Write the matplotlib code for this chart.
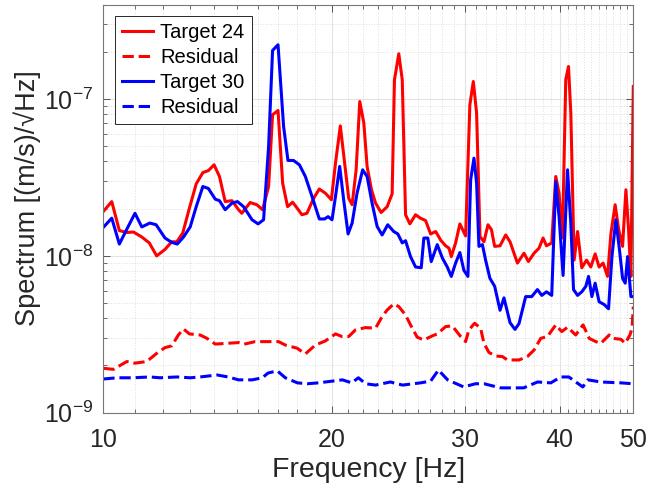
import numpy as np
import matplotlib.pyplot as plt
from matplotlib.ticker import FixedLocator, NullFormatter, LogLocator

plt.rcParams['font.family'] = ['Liberation Sans', 'DejaVu Sans']
plt.rcParams['mathtext.fontset'] = 'custom'
plt.rcParams['mathtext.rm'] = 'Liberation Sans'

# Target 24 (solid red), values in 1e-9 (m/s)/sqrt(Hz)
f_t24 = [10.0, 10.26, 10.5, 10.74, 10.96, 11.24, 11.5, 11.76, 12.06, 12.31, 12.5, 12.73, 12.99,
         13.26, 13.53, 13.76, 14.0, 14.23, 14.48, 14.78, 15.08, 15.23, 15.62, 15.94, 16.22, 16.52,
         16.72, 17.0, 17.24, 17.5, 17.77, 18.01, 18.28, 18.56, 18.94, 19.27, 19.63, 19.99, 20.24,
         20.54, 20.86, 21.07, 21.29, 21.55, 21.79, 22.06, 22.28, 22.58, 22.86, 23.25, 23.68, 24.04,
         24.21, 24.53, 24.79, 25.04, 25.37, 25.81, 26.2, 26.61, 27.02, 27.44, 27.86, 28.28, 28.57,
         28.77, 29.15, 29.53, 30.05, 30.44, 30.76, 31.07, 31.39, 31.77, 32.16, 32.5, 32.82, 33.36,
         33.94, 34.39, 35.17, 35.88, 36.36, 36.99, 37.55, 38.02, 38.41, 39.03, 39.51, 39.91, 40.32,
         40.73, 41.07, 41.36, 41.78, 42.22, 42.76, 43.38, 43.95, 44.53, 45.07, 45.62, 46.24, 46.71,
         47.32, 47.82, 48.4, 48.89, 49.29, 49.64, 50.0]
s_t24 = [19.2, 22.2, 14.5, 14.1, 14.2, 13.2, 12.1, 10.0, 11.0, 12.3, 12.3, 14.0, 20.2,
         28.8, 34.0, 35.0, 38.1, 32.1, 22.2, 22.5, 19.7, 18.7, 21.9, 21.2, 19.7, 27.7,
         79.4, 84.6, 29.1, 20.6, 22.0, 20.2, 18.3, 18.7, 23.3, 26.7, 25.1, 22.8, 39.0,
         67.5, 35.4, 23.3, 21.2, 35.4, 96.5, 70.3, 37.2, 26.4, 21.7, 18.9, 20.6, 24.9,
         132.8, 194.6, 132.8, 18.3, 16.0, 18.3, 17.4, 16.8, 13.8, 14.3, 12.6, 11.6, 11.2,
         9.9, 12.1, 16.0, 13.4, 92.0, 129.5, 81.4, 13.3, 12.3, 15.8, 14.7, 11.5, 11.6,
         13.6, 12.3, 9.0, 10.4, 9.2, 10.4, 11.2, 13.0, 11.6, 12.1, 32.1, 25.1, 13.0,
         132.8, 161.4, 81.4, 9.4, 14.3, 8.4, 9.4, 8.5, 10.3, 8.5, 9.0, 7.4, 13.8,
         21.2, 14.8, 11.5, 26.4, 14.7, 7.4, 120.3]

# Residual for Target 24 (dashed red)
f_r24 = [10.0, 10.31, 10.74, 11.01, 11.41, 11.76, 12.06, 12.31, 12.56, 12.76, 12.99, 13.42, 13.7,
         14.05, 14.56, 15.08, 15.31, 15.86, 16.35, 17.03, 17.38, 18.01, 18.47, 19.04, 19.63, 20.24,
         20.65, 21.07, 21.5, 22.17, 22.86, 23.32, 23.68, 24.16, 24.53, 25.04, 25.42, 25.94, 26.47,
         27.16, 27.57, 28.28, 28.85, 29.6, 30.05, 30.35, 30.88, 31.45, 31.77, 32.26, 32.91, 33.6,
         34.11, 34.46, 35.34, 36.25, 36.99, 37.75, 38.52, 39.51, 40.24, 40.95, 41.98, 42.93, 43.73,
         44.62, 45.31, 46.47, 46.94, 48.14, 48.79, 49.49, 49.82, 50.0]
s_r24 = [1.92, 1.89, 2.12, 2.07, 2.12, 2.39, 2.6, 2.67, 3.13, 3.42, 3.18, 3.13, 2.98,
         2.74, 2.77, 2.8, 2.73, 2.84, 2.84, 2.84, 2.7, 2.58, 2.37, 2.7, 2.87, 3.18,
         3.06, 3.06, 3.37, 3.49, 3.46, 4.1, 4.52, 4.94, 4.75, 4.2, 3.63, 3.03, 2.91,
         3.09, 3.18, 3.54, 3.58, 3.06, 2.84, 3.37, 3.72, 3.46, 2.77, 2.42, 2.3, 2.28,
         2.17, 2.17, 2.17, 2.28, 2.51, 2.98, 3.06, 3.63, 3.29, 3.51, 3.13, 3.63, 2.98,
         2.84, 2.77, 3.13, 2.98, 2.94, 2.77, 3.13, 3.46, 4.75]

# Target 30 (solid blue)
f_t30 = [10.0, 10.26, 10.5, 10.74, 11.01, 11.24, 11.52, 11.74, 12.06, 12.31, 12.52, 12.76, 13.02,
         13.26, 13.53, 13.76, 14.05, 14.23, 14.48, 14.78, 15.03, 15.31, 15.71, 16.0, 16.27, 16.52,
         16.72, 17.0, 17.29, 17.52, 17.82, 18.14, 18.47, 18.85, 19.27, 19.58, 19.79, 20.03, 20.24,
         20.5, 20.75, 21.03, 21.29, 21.61, 21.98, 22.28, 22.62, 22.97, 23.32, 23.72, 24.16, 24.46,
         24.79, 25.04, 25.42, 25.81, 26.26, 26.47, 26.79, 27.07, 27.57, 28.0, 28.42, 28.77, 29.15,
         29.53, 29.89, 30.26, 30.51, 30.82, 31.07, 31.29, 31.62, 31.93, 32.35, 32.82, 33.36, 33.76,
         34.39, 34.91, 35.34, 36.06, 36.73, 37.37, 37.87, 38.41, 39.03, 39.51, 39.91, 40.4, 40.95,
         41.36, 41.7, 42.22, 42.76, 43.29, 43.65, 44.09, 44.53, 45.07, 45.76, 46.38, 46.86, 47.42,
         47.89, 48.4, 48.79, 49.14, 49.64, 50.0]
s_t30 = [15.2, 17.4, 11.9, 14.8, 18.7, 15.3, 16.2, 15.8, 13.0, 12.2, 11.9, 13.2, 15.3,
         20.6, 27.7, 26.9, 23.0, 22.5, 19.7, 21.7, 22.2, 20.6, 17.0, 16.0, 17.0, 49.8,
         204.2, 222.1, 66.9, 40.6, 40.6, 38.1, 32.1, 23.9, 17.2, 17.2, 17.8, 17.0, 23.9,
         37.2, 22.8, 13.8, 16.2, 25.1, 35.4, 32.1, 21.7, 15.4, 13.6, 15.8, 14.3, 13.8,
         12.1, 12.5, 9.9, 8.5, 8.4, 13.0, 13.0, 9.2, 11.8, 9.7, 8.5, 7.4, 9.0,
         10.5, 8.1, 7.4, 30.5, 42.0, 29.1, 11.5, 11.8, 9.4, 7.2, 6.4, 4.5, 5.4,
         3.75, 3.4, 3.7, 5.5, 5.5, 6.1, 5.6, 5.9, 5.6, 29.8, 17.8, 7.5, 35.4,
         16.2, 6.1, 5.6, 5.9, 6.4, 7.4, 5.5, 6.7, 5.1, 4.9, 4.6, 9.9, 17.0,
         11.5, 7.2, 6.7, 9.9, 5.5, 5.5]

# Residual for Target 30 (dashed blue)
f_r30 = [10.0, 10.43, 10.94, 11.52, 11.88, 12.51, 13.02, 13.42, 14.13, 14.61, 15.08, 15.72, 16.21,
         16.49, 16.96, 17.38, 18.03, 18.58, 19.21, 20.05, 20.67, 21.26, 21.7, 22.17, 22.86, 23.91,
         24.81, 26.2, 27.02, 27.67, 28.45, 29.87, 30.97, 31.77, 33.42, 35.84, 37.39, 38.92, 40.12,
         41.11, 42.89, 43.55, 45.31, 48.14, 49.94]
s_r30 = [1.64, 1.67, 1.67, 1.69, 1.67, 1.69, 1.67, 1.69, 1.74, 1.69, 1.62, 1.62, 1.67,
         1.79, 1.85, 1.67, 1.55, 1.53, 1.55, 1.59, 1.62, 1.55, 1.67, 1.53, 1.5, 1.57,
         1.5, 1.55, 1.59, 1.87, 1.62, 1.46, 1.53, 1.53, 1.44, 1.44, 1.57, 1.55, 1.69,
         1.69, 1.46, 1.62, 1.57, 1.55, 1.53]

x_ticks = [10, 20, 30, 40, 50]
y_ticks = [1e-9, 1e-8, 1e-7]

fig = plt.figure(figsize=(6.48, 4.88), dpi=100)
ax = fig.add_axes([0.1594, 0.1543, 0.8179, 0.8361])

lw = 2.2
ax.plot(f_t24, np.array(s_t24) * 1e-9, color='#ff0000', lw=lw, label='Target 24')
ax.plot(f_r24, np.array(s_r24) * 1e-9, color='#ff0000', lw=lw, ls='--', label='Residual')
ax.plot(f_t30, np.array(s_t30) * 1e-9, color='#0000ff', lw=lw, label='Target 30')
ax.plot(f_r30, np.array(s_r30) * 1e-9, color='#0000ff', lw=lw, ls='--', label='Residual')

ax.set_xscale('log')
ax.set_yscale('log')
ax.set_xlim(10, 50)
ax.set_ylim(1e-9, 4e-7)

ax.xaxis.set_major_locator(FixedLocator(x_ticks))
ax.xaxis.set_major_formatter(plt.FuncFormatter(lambda v, p: '%d' % v))
ax.xaxis.set_minor_locator(FixedLocator([v for v in range(11, 50) if v % 10 != 0]))
ax.xaxis.set_minor_formatter(NullFormatter())
ax.yaxis.set_major_locator(FixedLocator(y_ticks))
ax.yaxis.set_major_formatter(plt.FuncFormatter(lambda v, p: r'$\mathdefault{10^{%d}}$' % round(np.log10(v))))
ax.yaxis.set_minor_locator(LogLocator(base=10, subs=np.arange(2, 10), numticks=10))
ax.yaxis.set_minor_formatter(NullFormatter())

ax.grid(True, which='major', color='#e3e3e3', lw=0.8, ls='-')
ax.grid(True, which='minor', color='#dedede', lw=0.7, ls=':')
ax.set_axisbelow(True)

ax.tick_params(which='both', direction='in', top=True, right=True, colors='#555555',
               labelcolor='#262626', labelsize=18)
ax.tick_params(which='major', length=5, width=0.7)
ax.tick_params(which='minor', length=3, width=0.6)
ax.tick_params(axis='x', pad=11)
ax.tick_params(axis='y', pad=7)
for s in ax.spines.values():
    s.set_color('#777777')
    s.set_linewidth(0.8)

ax.set_xlabel('Frequency [Hz]', fontsize=20.5, color='#262626')
ax.xaxis.set_label_coords(0.5, -0.108)
ax.set_ylabel('Spectrum [(m/s)/\u221aHz]', fontsize=19.5, color='#262626')
ax.yaxis.set_label_coords(-0.118, 0.525)

leg = ax.legend(loc='upper left', bbox_to_anchor=(0.022, 0.972), borderaxespad=0,
                fontsize=14.5, handlelength=1.55, handletextpad=0.35, labelspacing=0.3,
                borderpad=0.35, fancybox=False, framealpha=1)
leg.get_frame().set_edgecolor('#262626')
leg.get_frame().set_linewidth(0.7)

fig.savefig('out.png', dpi=100)
